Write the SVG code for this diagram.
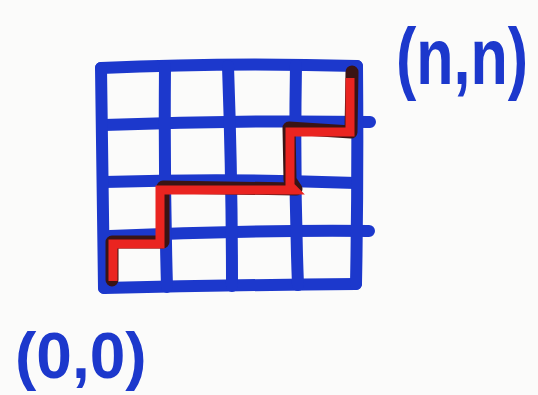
<svg xmlns="http://www.w3.org/2000/svg" width="538" height="395" viewBox="0 0 538 395">
<style>
.g{fill:none;stroke:#1c38cc;stroke-width:12;stroke-linecap:round;stroke-linejoin:round}
.pd{fill:none;stroke:#3a1414;stroke-width:13;stroke-linecap:round;stroke-linejoin:round}
.pr{fill:none;stroke:#ea2420;stroke-width:9;stroke-linecap:butt;stroke-linejoin:miter}
.t{font-family:"Liberation Sans",Arial,sans-serif;font-weight:bold;fill:#1c38cc}
</style>
<rect width="538" height="395" fill="#fbfbfa"/>
<g id="grid">
<path class="g" d="M101 68 Q230 62 357 66"/>
<path class="g" d="M104 125 Q240 120 370 122"/>
<path class="g" d="M104 182 Q230 178 356 183"/>
<path class="g" d="M110 236 Q240 230 369 231"/>
<path class="g" d="M104 288 Q230 285 356 284"/>
<path class="g" d="M101 68 Q103 180 104 288"/>
<path class="g" d="M165 66 Q164 180 167 287"/>
<path class="g" d="M228 66 Q232 180 232 286"/>
<path class="g" d="M296 65 Q294 180 298 285"/>
<path class="g" d="M357 66 Q358 180 356 284"/>
</g>
<g id="path">
<path class="pd" d="M112 280 L112 242 L163 242 L163 187 L296 189 L290 180 L289 128 L351 132 L352 72"/>
<path class="pr" d="M113 281 L113 244 L160 244 L160 190 L294 190 L290 186 L290 132 L350 132 L350 78"/>
</g>
<g id="labels">
<text class="t" transform="translate(396,84) scale(1,1.3)" x="0" y="0" font-size="61">(n,n)</text>
<text class="t" x="15" y="378" font-size="64">(0,0)</text>
</g>
</svg>
